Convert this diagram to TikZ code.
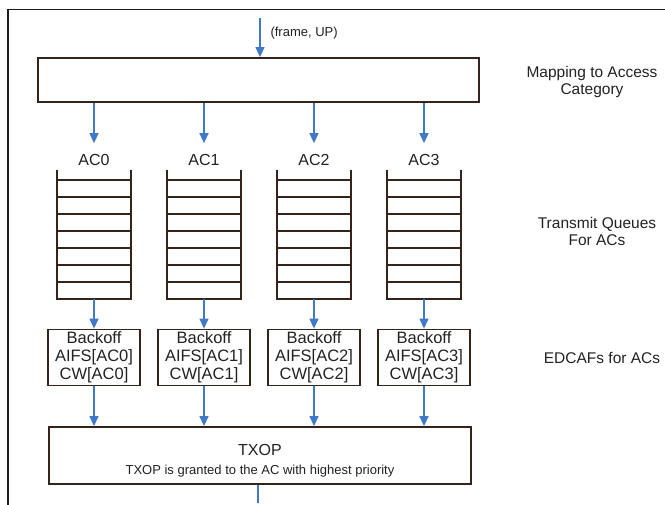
\documentclass[tikz,border=0pt]{standalone}
\usepackage{fontspec}
\setmainfont{Liberation Sans}
\usetikzlibrary{arrows.meta}
\definecolor{boxline}{RGB}{55,35,28}
\definecolor{flow}{RGB}{62,122,200}
\definecolor{ink}{RGB}{34,34,34}
\definecolor{framegray}{RGB}{30,30,30}

\begin{document}
\begin{tikzpicture}[x=1pt,y=-1pt,
  flowarrow/.style={draw=flow, line width=1.3pt, -{Triangle[width=9pt,length=10pt]}},
  flowline/.style={draw=flow, line width=1.3pt},
  panel/.style={draw=boxline, line width=1.8pt, fill=white, inner sep=0pt},
  acname/.style={font=\fontsize{16}{18}\selectfont, text=ink, inner xsep=0pt, inner ysep=11pt},
  edcaf/.style={panel, minimum width=92pt, minimum height=56pt, align=center,
    font=\fontsize{16.5}{18}\selectfont, text=ink},
  sidenote/.style={font=\fontsize{15.5}{17}\selectfont, text=ink, align=center},
  queuebody/.style={minimum width=74pt, minimum height=129pt, inner sep=0pt},
  queuebar/.style={draw=boxline, line width=1.6pt}
]
\useasboundingbox[fill=white] (0,0) rectangle (665,505);

% outer frame (left and top edges)
\draw[draw=framegray, line width=1.6pt] (8,506) -- (8,9.5) -- (666,9.5);

% mapping stage
\node[panel, minimum width=441pt, minimum height=44pt] (map) at (258.5,80) {};
\coordinate (inlet) at (260,18);
\draw[flowarrow] (inlet) -- (inlet |- map.north);
\node[anchor=west, font=\fontsize{13}{15}\selectfont, text=ink] (inlabel) at (267,33) {(frame, UP)};

% TXOP arbitration (the strut lowers both text lines a little)
\node[panel, minimum width=422pt, minimum height=57pt, align=center, text=ink] (txop) at (260,455.5)
  {{\fontsize{16}{18}\selectfont\rule{0pt}{21.5pt}TXOP}\\[7pt]{\fontsize{13}{15}\selectfont TXOP is granted to the AC with highest priority}};
\coordinate (outlet) at (258,503);
\draw[flowline] (txop.south -| outlet) -- (outlet);

% one column per access category
\foreach \i/\cx in {0/94,1/204,2/314,3/424} {
  \node[acname] (ac\i) at (\cx,160) {AC\i};
  \draw[flowarrow] (map.south -| ac\i) -- (ac\i.north);
  % transmit queue
  \node[queuebody] (q\i) at (\cx,234.5) {};
  \draw[queuebar] (\cx-37,170) -- (\cx-37,299) -- (\cx+37,299) -- (\cx+37,170);
  \foreach \k in {0,...,6} {
    \draw[queuebar] (\cx-37,180+17*\k) -- (\cx+37,180+17*\k);
  }
  % EDCAF
  \node[edcaf] (b\i) at (\cx,357.5) {Backoff\\AIFS[AC\i]\\CW[AC\i]};
  \draw[flowarrow] (q\i.south) -- (b\i.north);
  \draw[flowarrow] (b\i.south) -- (b\i.south |- txop.north);
}

% stage captions
\node[sidenote] (lblmap) at (592,82) {Mapping to Access\\Category};
\node[sidenote] (lblq) at (597,231) {Transmit Queues\\For ACs};
\node[sidenote] (lbled) at (602,358) {EDCAFs for ACs};
\end{tikzpicture}
\end{document}
